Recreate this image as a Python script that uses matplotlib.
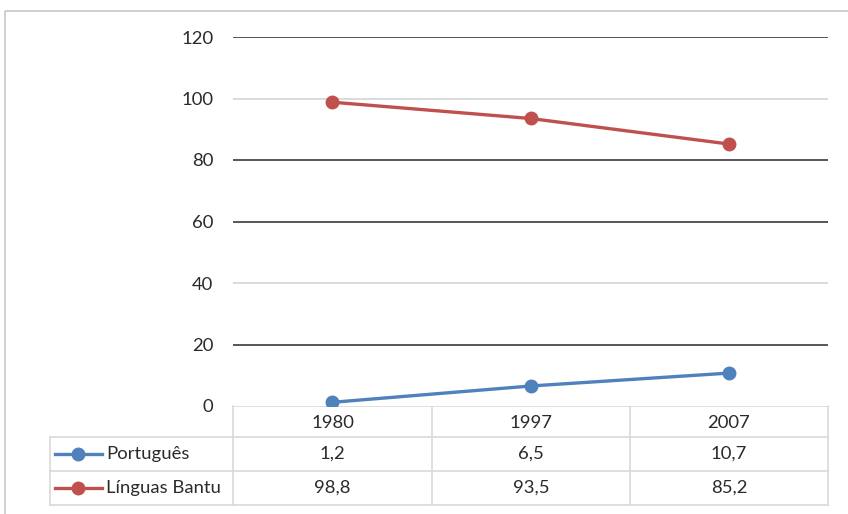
import matplotlib.pyplot as plt
from matplotlib.patches import Rectangle

# Data
years = ['1980', '1997', '2007']
portugues = [1.2, 6.5, 10.7]
bantu = [98.8, 93.5, 85.2]
series_names = ['Português', 'Línguas Bantu']
yticks = [0, 20, 40, 60, 80, 100, 120]

blue = '#4F81BD'
red = '#C0504D'
font = 'Lato'
fs = 13.3
txt = '#2a2a2a'

W, H = 848, 514
fig = plt.figure(figsize=(W / 100, H / 100), dpi=100)

# plot area in pixel coords
px_l, px_r, px_t, px_b = 233, 828, 37, 406
ax = fig.add_axes([px_l / W, 1 - px_b / H, (px_r - px_l) / W, (px_b - px_t) / H])

x = list(range(len(years)))
ax.plot(x, portugues, color=blue, lw=2.4, marker='o', ms=9, solid_capstyle='round')
ax.plot(x, bantu, color=red, lw=2.4, marker='o', ms=9, solid_capstyle='round')

ax.set_xlim(-0.5, len(years) - 0.5)
ax.set_ylim(0, 120)
ax.set_yticks(yticks)
ax.set_yticklabels([str(v) for v in yticks], fontfamily=font, fontsize=fs, color=txt)
ax.tick_params(axis='y', length=0, pad=14)
ax.set_xticks([])
for s in ax.spines.values():
    s.set_visible(False)
ax.yaxis.grid(True)
ax.set_axisbelow(True)
# gridlines render alternately dark and light in the original
grid_col = {0: '#ffffff', 20: '#3a3a3a', 40: '#d4d4d4', 60: '#3a3a3a',
            80: '#3a3a3a', 100: '#d4d4d4', 120: '#3a3a3a'}
for v, gl in zip(yticks, ax.get_ygridlines()):
    gl.set_color(grid_col[v])
    gl.set_linewidth(1.2)

# overlay for border and data table, in pixel coordinates
ov = fig.add_axes([0, 0, 1, 1], zorder=-1)
ov.set_xlim(0, W)
ov.set_ylim(H, 0)
ov.axis('off')
ov.add_patch(Rectangle((5, 11), W + 10, H, fill=False, ec='#c8c8c8', lw=1.2))

tcol = '#d9d9d9'
row_y = [406, 437, 471, 505]
col_x = [233, 432, 630, 828]
lab_l = 50
# horizontal lines
ov.plot([col_x[0], col_x[-1]], [row_y[0]] * 2, color=tcol, lw=1.2)
for y in row_y[1:]:
    ov.plot([lab_l, col_x[-1]], [y, y], color=tcol, lw=1.2)
# vertical lines
ov.plot([lab_l, lab_l], [row_y[1], row_y[-1]], color=tcol, lw=1.2)
for cx in col_x:
    ov.plot([cx, cx], [row_y[0], row_y[-1]], color=tcol, lw=1.2)

centers = [(col_x[i] + col_x[i + 1]) / 2 for i in range(len(years))]
for cx, yr in zip(centers, years):
    ov.text(cx, (row_y[0] + row_y[1]) / 2 + 1, yr, ha='center', va='center',
            fontfamily=font, fontsize=fs, color=txt)

rows = [portugues, bantu]
colors = [blue, red]
for r, (vals, name, c) in enumerate(zip(rows, series_names, colors)):
    yc = (row_y[r + 1] + row_y[r + 2]) / 2
    ov.plot([55, 102], [yc, yc], color=c, lw=2.4)
    ov.plot([78], [yc], color=c, marker='o', ms=9)
    ov.text(106, yc, name, ha='left', va='center', fontfamily=font, fontsize=fs, color=txt)
    for cx, v in zip(centers, vals):
        ov.text(cx, yc, f'{v:.1f}'.replace('.', ','), ha='center', va='center',
                fontfamily=font, fontsize=fs, color=txt)

fig.savefig('out.png', dpi=100)
